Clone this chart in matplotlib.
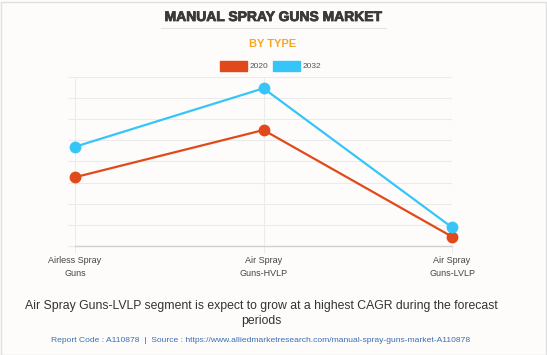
import matplotlib.pyplot as plt
import matplotlib.patheffects as pe
from matplotlib.patches import Rectangle

# Data (arbitrary units - no y labels shown)
categories = ["Airless Spray\nGuns", "Air Spray\nGuns-HVLP", "Air Spray\nGuns-LVLP"]
values_2020 = [3.25, 5.48, 0.44]
values_2032 = [4.69, 7.45, 0.88]
years = ["2020", "2032"]

orange = "#e2491a"
blue = "#36c5f9"
bg = "#fdfcfb"

plt.rcParams["font.family"] = ["Liberation Sans", "DejaVu Sans"]

fig = plt.figure(figsize=(5.47, 3.55), dpi=100, facecolor=bg)
W, H = 547, 355

# plot area in pixels: x 75..452, y 76.7..246 (from top)
ax = fig.add_axes([75 / W, 1 - 246 / H, (452 - 75) / W, (246 - 76.7) / H])
ax.set_facecolor(bg)

x = list(range(len(categories)))
ax.plot(x, values_2020, color=orange, lw=1.6, marker="o", ms=7.5, zorder=3, clip_on=False)
ax.plot(x, values_2032, color=blue, lw=1.6, marker="o", ms=7.5, zorder=3, clip_on=False)

ax.set_xlim(0, 2)
ax.set_ylim(0, 8)
ax.set_yticks(range(0, 9))
ax.set_yticklabels([])
ax.set_xticks(x)
ax.set_xticklabels(categories, fontsize=6.5, color="#444444", linespacing=1.65)
ax.grid(True, color="#ebebeb", lw=0.8)
ax.tick_params(axis="y", length=5, color="#ebebeb", width=0.8)
ax.tick_params(axis="x", length=5, color="#ebebeb", width=0.8, pad=2)
for s in ["top", "right", "left"]:
    ax.spines[s].set_visible(False)
ax.spines["bottom"].set_color("#d0d0d0")
ax.spines["bottom"].set_linewidth(1)

# Titles
fig.text(273 / W, 1 - 17 / H, "MANUAL SPRAY GUNS MARKET", ha="center", va="center",
         fontsize=10, fontweight="bold", color="#3a3a3a",
         path_effects=[pe.withStroke(linewidth=0.6, foreground="#3a3a3a")])
fig.add_artist(plt.Line2D([161 / W, 386 / W], [1 - 28.3 / H, 1 - 28.3 / H],
                          color="#e3e3e3", lw=0.8))
fig.text(273 / W, 1 - 44 / H, "BY TYPE", ha="center", va="center",
         fontsize=8, fontweight="bold", color="#f5a623")

# Legend
legend_x = [220, 273]
for lx, lab, col in zip(legend_x, years, [orange, blue]):
    fig.add_artist(Rectangle((lx / W, 1 - 70.7 / H), 27 / W, 9.7 / H,
                             transform=fig.transFigure, color=col))
    fig.text((lx + 30) / W, 1 - 66 / H, lab, ha="left", va="center",
             fontsize=6, color="#555555")

# Caption
fig.text(261.5 / W, 1 - 306 / H, "Air Spray Guns-LVLP segment is expect to grow at a highest CAGR during the forecast",
         ha="center", va="center", fontsize=8.8, color="#333333")
fig.text(261.5 / W, 1 - 321 / H, "periods", ha="center", va="center", fontsize=8.8, color="#333333")
fig.text(261 / W, 1 - 340 / H,
         "Report Code : A110878  |  Source : https://www.alliedmarketresearch.com/manual-spray-guns-market-A110878",
         ha="center", va="center", fontsize=6.1, color="#3a6eb5")

# border
fig.add_artist(Rectangle((0.5 / W, 0.5 / H), (W - 2) / W, (H - 2) / H,
                         transform=fig.transFigure, fill=False, edgecolor="#e0e0e0", lw=1))

fig.savefig("out.png", dpi=100, facecolor=bg)
